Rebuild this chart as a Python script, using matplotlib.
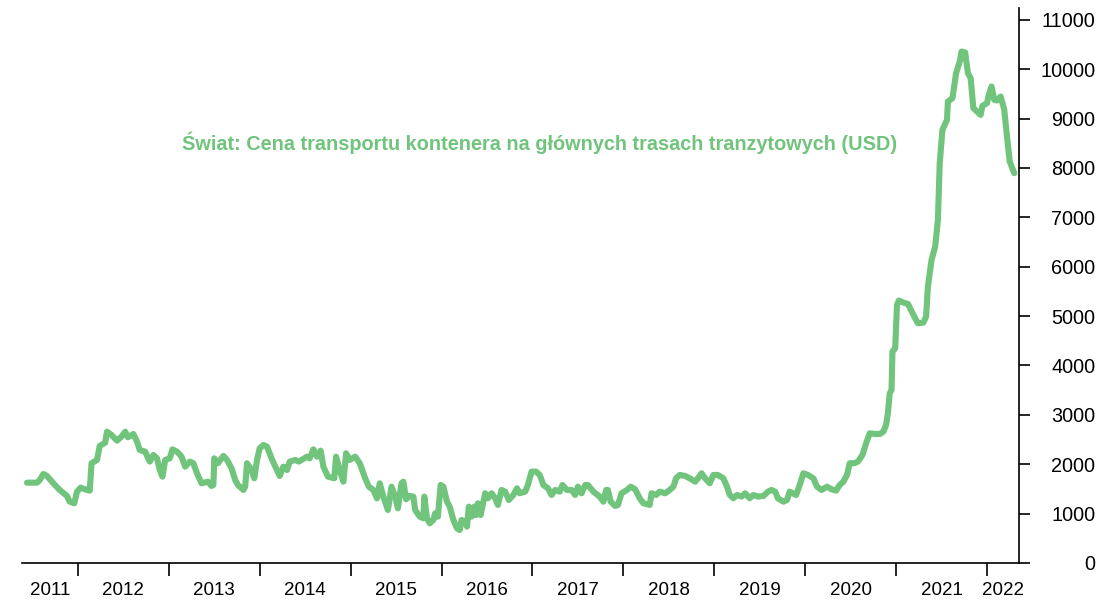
import numpy as np
import matplotlib
matplotlib.use('Agg')
import matplotlib.pyplot as plt
from matplotlib.ticker import FixedLocator, NullFormatter

plt.rcParams['font.family'] = ['Liberation Sans', 'DejaVu Sans']

# data: time in decimal years, price of container transport (USD)
years = [
    2011.44, 2011.55, 2011.58, 2011.62, 2011.66, 2011.73, 2011.80, 2011.88, 2011.91, 2011.96,
    2011.99, 2012.03, 2012.10, 2012.13, 2012.15, 2012.21, 2012.24, 2012.30, 2012.32, 2012.37,
    2012.43, 2012.48, 2012.52, 2012.55, 2012.61, 2012.65, 2012.68, 2012.74, 2012.79, 2012.83,
    2012.87, 2012.90, 2012.93, 2012.96, 2013.01, 2013.04, 2013.09, 2013.14, 2013.18, 2013.23,
    2013.27, 2013.31, 2013.36, 2013.43, 2013.47, 2013.49, 2013.50, 2013.54, 2013.60, 2013.64,
    2013.69, 2013.73, 2013.76, 2013.82, 2013.84, 2013.86, 2013.91, 2013.94, 2013.97, 2014.00,
    2014.04, 2014.08, 2014.13, 2014.18, 2014.22, 2014.26, 2014.30, 2014.33, 2014.39, 2014.43,
    2014.46, 2014.52, 2014.55, 2014.59, 2014.63, 2014.67, 2014.70, 2014.75, 2014.82, 2014.84,
    2014.88, 2014.92, 2014.95, 2014.99, 2015.05, 2015.10, 2015.16, 2015.20, 2015.25, 2015.29,
    2015.32, 2015.36, 2015.41, 2015.45, 2015.49, 2015.52, 2015.56, 2015.58, 2015.61, 2015.65,
    2015.69, 2015.71, 2015.76, 2015.80, 2015.81, 2015.84, 2015.87, 2015.91, 2015.93, 2015.96,
    2015.99, 2016.02, 2016.06, 2016.09, 2016.13, 2016.17, 2016.20, 2016.22, 2016.26, 2016.28,
    2016.30, 2016.33, 2016.36, 2016.38, 2016.40, 2016.43, 2016.48, 2016.51, 2016.55, 2016.59,
    2016.62, 2016.66, 2016.70, 2016.74, 2016.79, 2016.83, 2016.86, 2016.92, 2016.95, 2016.99,
    2017.04, 2017.08, 2017.12, 2017.17, 2017.21, 2017.25, 2017.30, 2017.33, 2017.38, 2017.43,
    2017.47, 2017.50, 2017.54, 2017.58, 2017.61, 2017.67, 2017.74, 2017.78, 2017.81, 2017.83,
    2017.86, 2017.91, 2017.94, 2017.98, 2018.04, 2018.08, 2018.13, 2018.18, 2018.22, 2018.29,
    2018.31, 2018.36, 2018.40, 2018.46, 2018.51, 2018.55, 2018.58, 2018.62, 2018.68, 2018.73,
    2018.79, 2018.82, 2018.86, 2018.90, 2018.95, 2018.99, 2019.04, 2019.10, 2019.14, 2019.17,
    2019.21, 2019.25, 2019.30, 2019.34, 2019.39, 2019.43, 2019.48, 2019.54, 2019.59, 2019.63,
    2019.67, 2019.70, 2019.76, 2019.80, 2019.83, 2019.90, 2019.94, 2019.98, 2020.03, 2020.09,
    2020.13, 2020.18, 2020.24, 2020.29, 2020.34, 2020.38, 2020.42, 2020.46, 2020.49, 2020.54,
    2020.58, 2020.63, 2020.67, 2020.71, 2020.77, 2020.82, 2020.86, 2020.89, 2020.91, 2020.93,
    2020.95, 2020.96, 2020.99, 2021.01, 2021.03, 2021.08, 2021.13, 2021.20, 2021.24, 2021.30,
    2021.33, 2021.35, 2021.39, 2021.43, 2021.46, 2021.48, 2021.51, 2021.56, 2021.57, 2021.62,
    2021.66, 2021.70, 2021.72, 2021.76, 2021.79, 2021.82, 2021.85, 2021.89, 2021.93, 2021.95,
    2022.00, 2022.02, 2022.05, 2022.08, 2022.11, 2022.15, 2022.19, 2022.22, 2022.25, 2022.30,
]
prices = [
    1627, 1627, 1680, 1803, 1763, 1614, 1479, 1357, 1242, 1209,
    1445, 1526, 1479, 1465, 2020, 2087, 2370, 2438, 2660, 2593,
    2478, 2560, 2660, 2546, 2613, 2458, 2289, 2255, 2053, 2188,
    2120, 1884, 1749, 2087, 2120, 2302, 2255, 2154, 1951, 2053,
    2020, 1817, 1614, 1647, 1560, 1580, 2120, 2020, 2168, 2087,
    1918, 1682, 1580, 1479, 1546, 2020, 1884, 1715, 2087, 2323,
    2390, 2357, 2120, 1918, 1763, 1951, 1884, 2053, 2087, 2053,
    2087, 2154, 2120, 2302, 2154, 2276, 1951, 1749, 1715, 2154,
    1884, 1647, 2222, 2087, 2154, 2020, 1715, 1546, 1479, 1310,
    1614, 1344, 1074, 1546, 1344, 1107, 1614, 1647, 1290, 1360,
    1344, 1074, 939, 905, 1344, 905, 804, 871, 1006, 939,
    1580, 1546, 1242, 1141, 871, 703, 669, 871, 837, 736,
    1141, 939, 1141, 972, 1209, 972, 1412, 1310, 1412, 1310,
    1175, 1479, 1445, 1276, 1378, 1513, 1412, 1445, 1580, 1850,
    1850, 1783, 1580, 1513, 1378, 1479, 1445, 1580, 1479, 1479,
    1378, 1546, 1412, 1580, 1580, 1445, 1344, 1242, 1479, 1479,
    1242, 1155, 1175, 1412, 1479, 1546, 1493, 1310, 1209, 1175,
    1412, 1378, 1445, 1412, 1479, 1546, 1715, 1783, 1763, 1715,
    1647, 1715, 1817, 1715, 1614, 1783, 1783, 1715, 1546, 1378,
    1310, 1378, 1344, 1412, 1310, 1378, 1344, 1357, 1445, 1479,
    1445, 1310, 1242, 1276, 1445, 1378, 1580, 1817, 1783, 1715,
    1546, 1479, 1546, 1493, 1465, 1580, 1647, 1783, 2020, 2020,
    2053, 2188, 2425, 2627, 2613, 2613, 2660, 2796, 3032, 3437,
    3505, 4281, 4349, 5227, 5315, 5274, 5247, 4990, 4855, 4868,
    4990, 5598, 6139, 6409, 6949, 8098, 8772, 8975, 9346, 9414,
    9920, 10156, 10359, 10338, 9920, 9819, 9211, 9144, 9076, 9259,
    9313, 9481, 9650, 9380, 9366, 9447, 9178, 8637, 8131, 7895,
]
year_labels = [str(y) for y in range(2011, 2023)]
y_ticks = list(range(0, 12000, 1000))

title = 'Świat: Cena transportu kontenera na głównych trasach tranzytowych (USD)'
green = '#70C47C'

x_min, x_max = 2011.385, 2022.352

fig = plt.figure(figsize=(11.17, 6), dpi=100)
ax = fig.add_axes([22 / 1117, 37 / 600, 997 / 1117, 555 / 600])

ax.plot(years, prices, color=green, linewidth=4.4, solid_joinstyle='round', solid_capstyle='round')

ax.set_xlim(x_min, x_max)
ax.set_ylim(0, 11240)

# spines
ax.spines['top'].set_visible(False)
ax.spines['left'].set_visible(False)
ax.spines['right'].set_linewidth(1.2)
ax.spines['bottom'].set_linewidth(1.2)

# y axis on the right
ax.yaxis.tick_right()
ax.set_yticks(y_ticks)
ax.set_yticklabels([str(v) for v in y_ticks])
ax.tick_params(axis='y', direction='out', length=8, width=1.2, labelsize=14.3, pad=47)
for lbl in ax.get_yticklabels():
    lbl.set_horizontalalignment('right')

# x axis: ticks at year boundaries, labels at middle of the visible part of each year
boundaries = list(range(2012, 2023))
ax.xaxis.set_major_locator(FixedLocator(boundaries))
ax.xaxis.set_major_formatter(NullFormatter())
mids = []
for lab in year_labels:
    y0 = max(int(lab), x_min)
    y1 = min(int(lab) + 1, x_max)
    mids.append((y0 + y1) / 2)
ax.xaxis.set_minor_locator(FixedLocator(mids))
ax.set_xticklabels(year_labels, minor=True)
ax.tick_params(axis='x', which='major', direction='out', length=9, width=1.2)
ax.tick_params(axis='x', which='minor', length=0, labelsize=13.5, pad=14)

ax.text(2011.385 + (540 - 22) / 90.9, 11240 * (1 - (143 - 8) / 555), title,
        color=green, fontsize=14.3, fontweight='bold', ha='center', va='center')

plt.savefig('out.png', dpi=100)
